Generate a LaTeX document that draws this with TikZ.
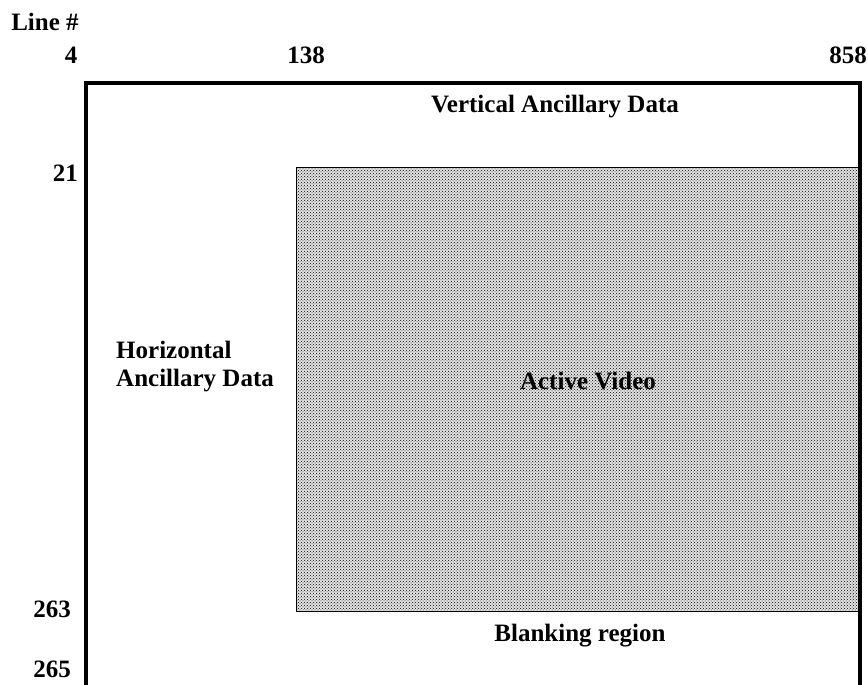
\documentclass[tikz,border=0pt]{standalone}
\usepackage{fontspec}
\setmainfont{Liberation Serif}
\usetikzlibrary{patterns,positioning}
\tikzset{
    linenum/.style={
        font=\fontsize{25}{28}\selectfont\bfseries,
        inner sep=0pt
    },
    % region labels
    regionlabel/.style={
        font=\fontsize{25}{28}\selectfont\bfseries,
        inner sep=0pt
    }
}

\begin{document}
\begin{tikzpicture}[x=1pt,y=-1pt]
   \useasboundingbox (0,0) rectangle (868,685);
   % active video area
   \fill[gray!22] (296,167) rectangle (859,611);
   \fill[pattern=crosshatch dots, pattern color=black] (296,167) rectangle (859,611);
   \draw[line width=1pt] (296,167) rectangle (859,611);
   % outer frame
   \draw[line width=4pt] (86,83.5) rectangle (860,687);
    \node[linenum] (line) at (45,22) {Line \#};
    \node[linenum] (n4) at (71,55) {4};
    \node[linenum] (n138) at (306,55) {138};
    \node[linenum, anchor=east] (n858) at (867,55) {858};
    \node[linenum, anchor=east] (n21) at (78,173) {21};
    \node[linenum, anchor=east] (n263) at (71,609) {263};
    \node[linenum, anchor=east] (n265) at (71,669) {265};
    \node[regionlabel] (vad) at (555,107) {Vertical Ancillary Data};
    \node[regionlabel, align=left, anchor=west] (had) at (116,367) {Horizontal\\Ancillary Data};
    \node[regionlabel] (av) at (588,381) {Active Video};
    \node[regionlabel] (blank) at (580,636) {Blanking region};
\end{tikzpicture}
\end{document}
